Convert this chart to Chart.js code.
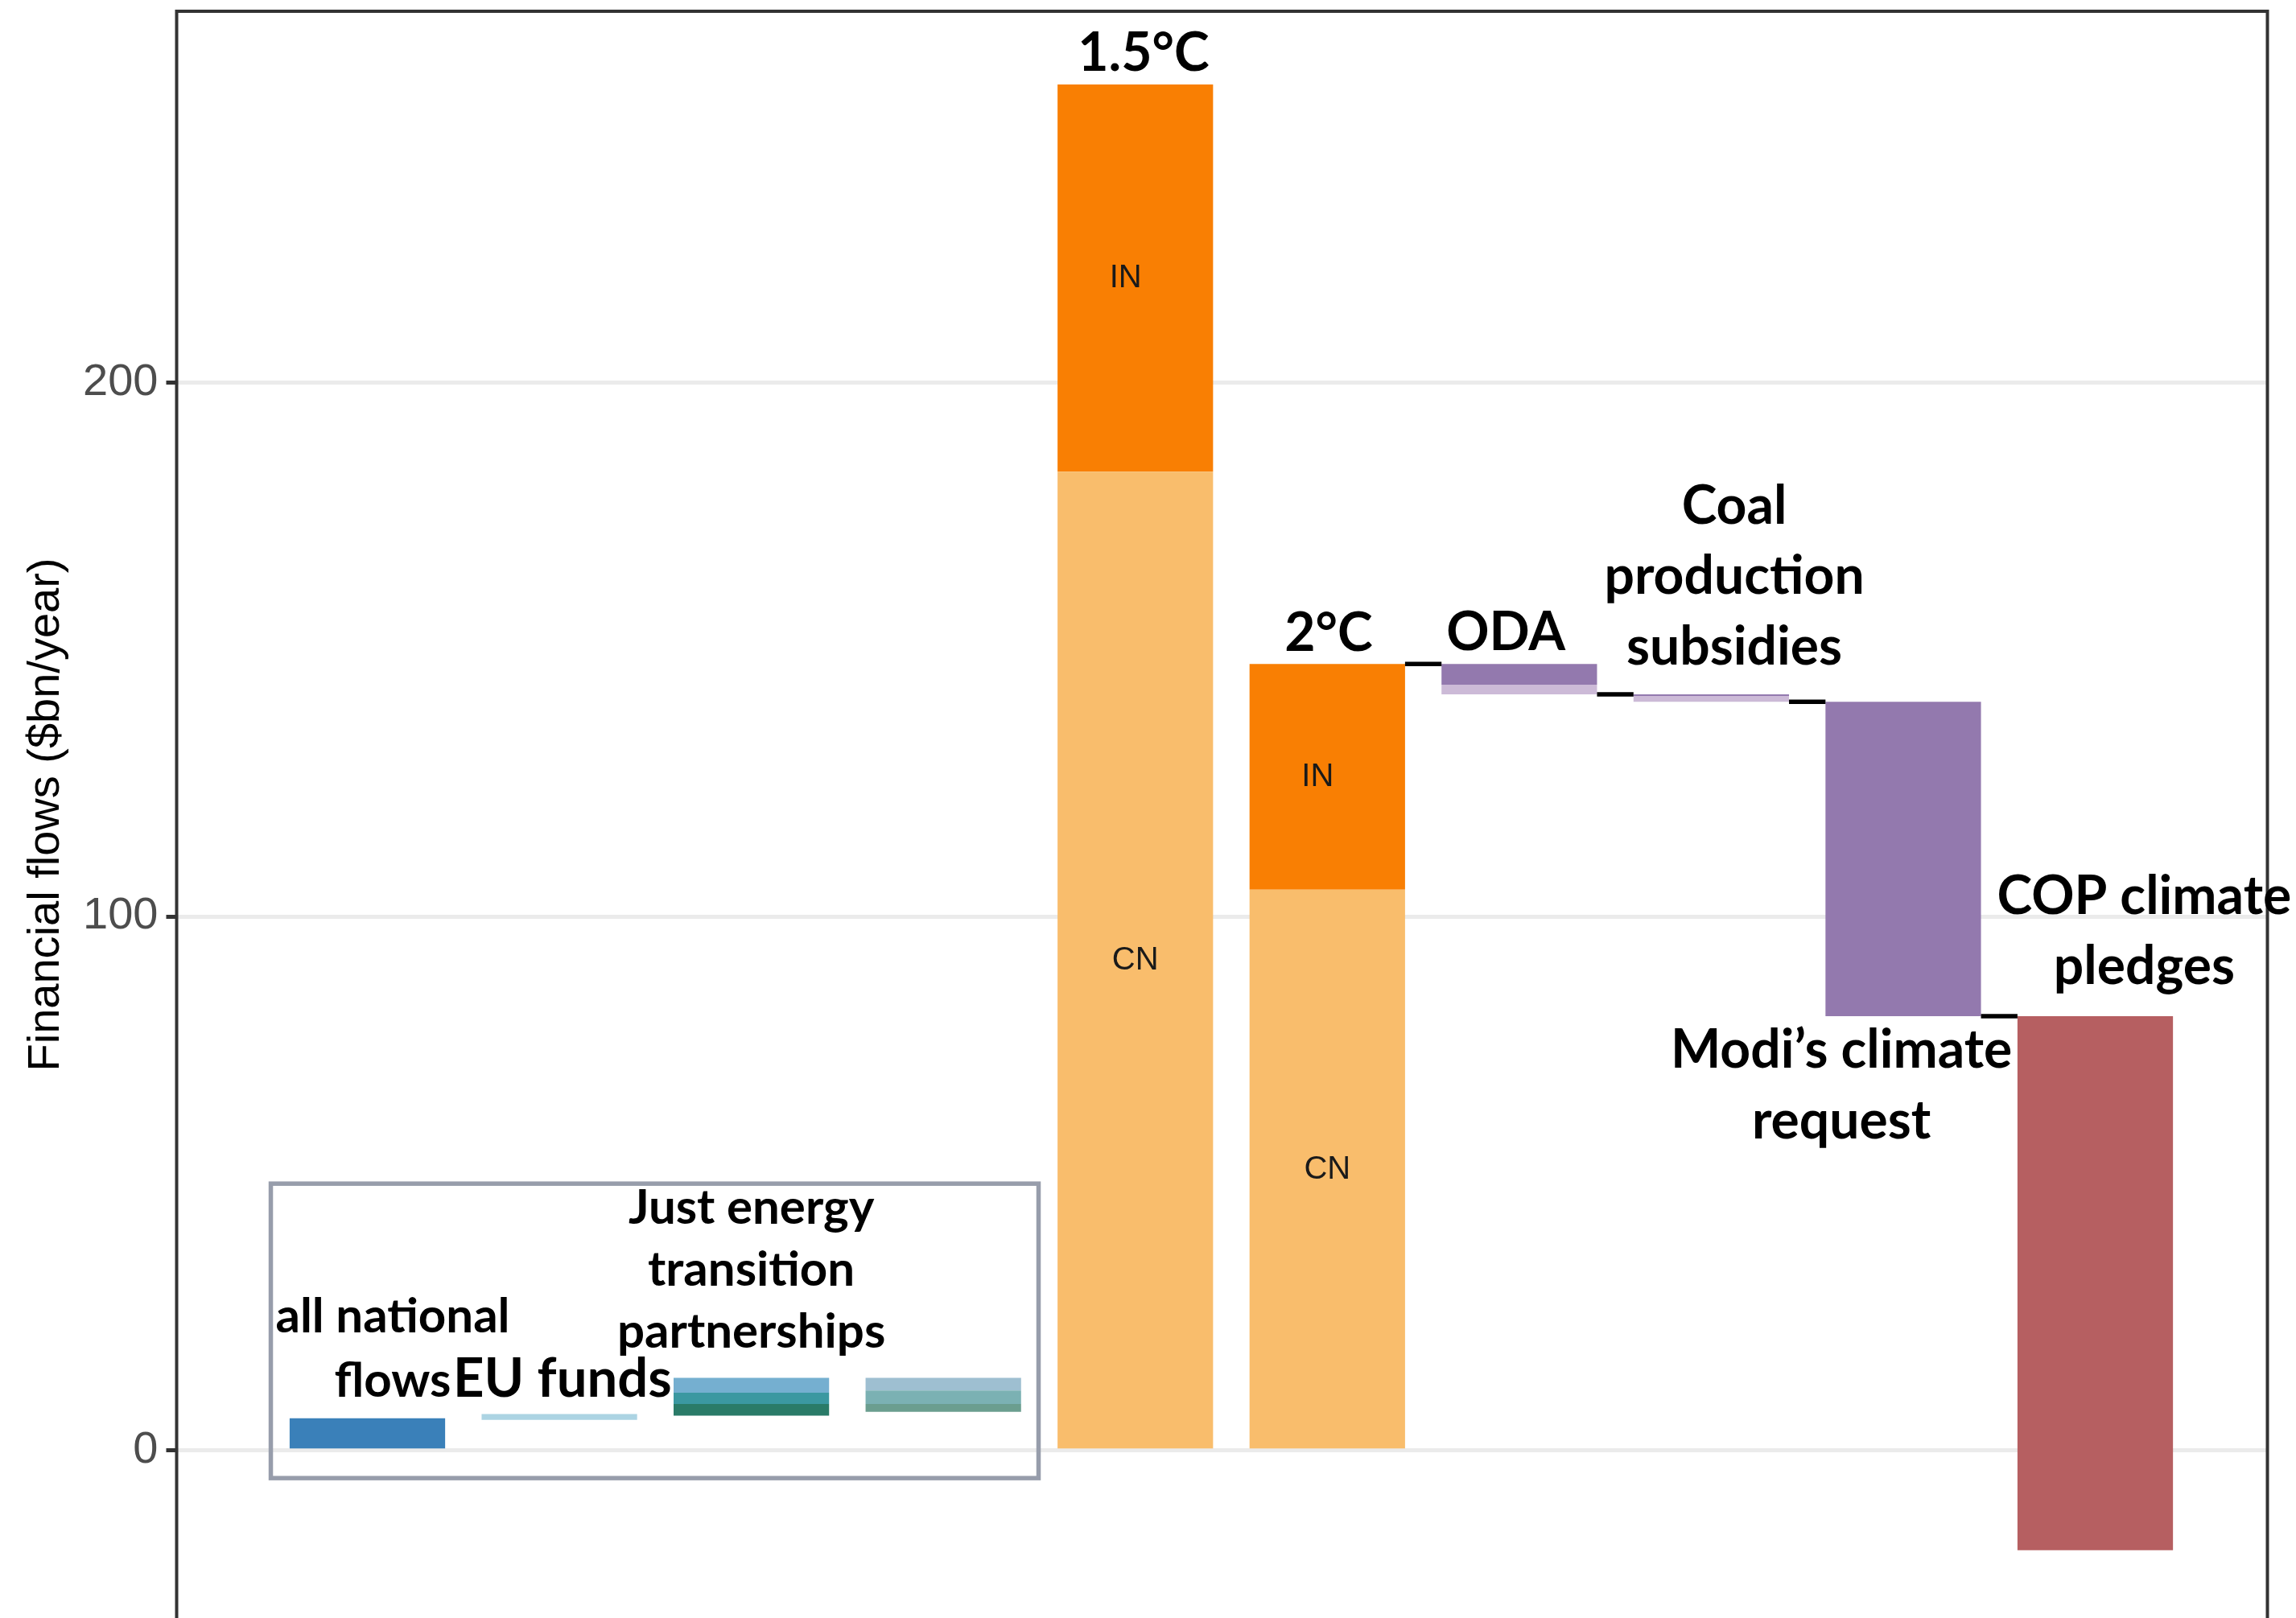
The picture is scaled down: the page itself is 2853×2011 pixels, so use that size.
<!DOCTYPE html>
<html>
<head>
<meta charset="utf-8">
<title>Financial flows</title>
<script src="https://cdn.jsdelivr.net/npm/chart.js@4.4.1/dist/chart.umd.min.js"></script>
<style>
  html, body { margin: 0; padding: 0; background: #ffffff; }
  canvas { display: block; }
</style>
</head>
<body>
<canvas id="flowChart" width="2853" height="2011"></canvas>
<script>
// Sumbu y
const yTicks = [0, 100, 200];
const yMin = -31.4;
const yMax = 269.53;

// Posisi batang di sumbu x (1..10)
const barPositions = [1, 2, 3, 4, 5, 6, 7, 8, 9, 10];

// Kelompok kiri (di dalam kotak)
const nationalFlows = [0, 6.0];
const euFunds = [5.7, 6.8];
const jetpParts = [[6.5, 8.7], [8.7, 10.8], [10.8, 13.6]];
const jetpAltParts = [[7.2, 8.7], [8.7, 11.2], [11.2, 13.6]];

// Kebutuhan investasi per skenario
const scenarios = ['1.5°C', '2°C'];
const cnNeed = [183.3, 105.0];
const inNeed = [72.5, 42.3];

// Langkah waterfall setelah 2°C
const odaSteps = [-3.9, -1.8];
const coalSteps = [-0.3, -1.1];
const modiRequest = -58.9;
const copPledges = -100;

// Hitung rentang batang mengambang dari langkah-langkah di atas
let level = cnNeed[1] + inNeed[1];
const connectorLevels = [level];
const odaRanges = odaSteps.map(s => { const r = [level, level + s]; level += s; return r; });
connectorLevels.push(level);
const coalRanges = coalSteps.map(s => { const r = [level, level + s]; level += s; return r; });
connectorLevels.push(level);
const modiRange = [level, level + modiRequest];
level += modiRequest;
connectorLevels.push(level);
const copRange = [level, level + copPledges];

// Teks anotasi
const annotations = [
  { lines: ['all national', 'flows'], x: 1.132, y: 22.17, size: 60, gap: 80 },
  { lines: ['EU funds'], x: 2.016, y: 10.1, size: 67, gap: 80 },
  { lines: ['Just energy', 'transition', 'partnerships'], x: 3.0, y: 42.5, size: 60, gap: 77 },
  { lines: [scenarios[0]], x: 5.043, y: 258.4, size: 66, gap: 87 },
  { lines: [scenarios[1]], x: 6.007, y: 149.8, size: 66, gap: 87 },
  { lines: ['ODA'], x: 6.93, y: 149.9, size: 66, gap: 87 },
  { lines: ['Coal', 'production', 'subsidies'], x: 8.12, y: 173.6, size: 66, gap: 87.5 },
  { lines: ['Modi\u2019s climate', 'request'], x: 8.678, y: 71.6, size: 66, gap: 88 },
  { lines: ['COP climate', 'pledges'], x: 10.255, y: 100.45, size: 66, gap: 87 }
];
const boxCorners = { x1: 0.497, x2: 4.496, y1: 49.95, y2: -5.2 };

const bar = (x, r) => ({ x: x, y: r });

const datasets = [
  { label: 'all national flows', color: '#3a80b9', data: [bar(barPositions[0], nationalFlows)] },
  { label: 'EU funds', color: '#acd4e3', data: [bar(barPositions[1], euFunds)] },
  { label: 'JETP 1', color: '#2a7b68', data: [bar(barPositions[2], jetpParts[0])] },
  { label: 'JETP 2', color: '#3b98a1', data: [bar(barPositions[2], jetpParts[1])] },
  { label: 'JETP 3', color: '#75afd0', data: [bar(barPositions[2], jetpParts[2])] },
  { label: 'JETP alt 1', color: '#6b9e8f', data: [bar(barPositions[3], jetpAltParts[0])] },
  { label: 'JETP alt 2', color: '#7bb1b3', data: [bar(barPositions[3], jetpAltParts[1])] },
  { label: 'JETP alt 3', color: '#9ebfd1', data: [bar(barPositions[3], jetpAltParts[2])] },
  { label: 'CN', color: '#f9bd6c', data: cnNeed.map((v, i) => bar(barPositions[4 + i], [0, v])) },
  { label: 'IN', color: '#f97f03', data: inNeed.map((v, i) => bar(barPositions[4 + i], [cnNeed[i], cnNeed[i] + v])) },
  { label: 'dark purple', color: '#9379ae',
    data: [bar(barPositions[6], odaRanges[0]), bar(barPositions[7], coalRanges[0]), bar(barPositions[8], modiRange)] },
  { label: 'light purple', color: '#ccbad7',
    data: [bar(barPositions[6], odaRanges[1]), bar(barPositions[7], coalRanges[1])] },
  { label: 'COP climate pledges', color: '#b65f61', data: [bar(barPositions[9], copRange)] }
].map(d => ({
  label: d.label,
  data: d.data,
  backgroundColor: d.color,
  borderWidth: 0,
  barPercentage: 0.81,
  categoryPercentage: 1.0,
  grouped: false
}));

// Garis penghubung, label IN/CN, kotak, bingkai panel dan teks
const annotPlugin = {
  id: 'annot',
  afterDatasetsDraw(chart) {
    const { ctx, chartArea } = chart;
    const xs = chart.scales.x;
    const ys = chart.scales.y;
    const w = chart.getDatasetMeta(0).data[0].width;
    ctx.save();

    ctx.strokeStyle = '#000000';
    ctx.lineWidth = 5.5;
    connectorLevels.forEach((lv, i) => {
      const from = barPositions[5 + i];
      const x1 = xs.getPixelForValue(from) + w / 2;
      const x2 = xs.getPixelForValue(from + 1) - w / 2;
      const py = ys.getPixelForValue(lv);
      ctx.beginPath();
      ctx.moveTo(x1, py);
      ctx.lineTo(x2, py);
      ctx.stroke();
    });

    ctx.fillStyle = '#1a1a1a';
    ctx.font = '40px "Liberation Sans", Arial, sans-serif';
    ctx.textAlign = 'center';
    ctx.textBaseline = 'middle';
    cnNeed.forEach((cn, i) => {
      const px = xs.getPixelForValue(barPositions[4 + i]);
      ctx.fillText('IN', px - 12, ys.getPixelForValue(cn + inNeed[i] / 2));
      ctx.fillText('CN', px, ys.getPixelForValue(cn / 2));
    });

    ctx.strokeStyle = '#979dab';
    ctx.lineWidth = 5.5;
    const bx1 = xs.getPixelForValue(boxCorners.x1);
    const bx2 = xs.getPixelForValue(boxCorners.x2);
    const by1 = ys.getPixelForValue(boxCorners.y1);
    const by2 = ys.getPixelForValue(boxCorners.y2);
    ctx.strokeRect(bx1, by1, bx2 - bx1, by2 - by1);

    ctx.strokeStyle = '#333333';
    ctx.lineWidth = 4;
    ctx.beginPath();
    ctx.moveTo(chartArea.left, chart.height);
    ctx.lineTo(chartArea.left, chartArea.top);
    ctx.lineTo(chartArea.right, chartArea.top);
    ctx.lineTo(chartArea.right, chart.height);
    ctx.stroke();

    ctx.fillStyle = '#000000';
    ctx.textBaseline = 'alphabetic';
    annotations.forEach(a => {
      ctx.font = 'bold ' + a.size + 'px Lato, "Open Sans", sans-serif';
      const px = xs.getPixelForValue(a.x);
      const py = ys.getPixelForValue(a.y);
      a.lines.forEach((t, i) => ctx.fillText(t, px, py + i * a.gap));
    });
    ctx.restore();
  }
};

function drawChart() {
  new Chart(document.getElementById('flowChart').getContext('2d'), {
    type: 'bar',
    data: { datasets: datasets },
    options: {
      responsive: false,
      animation: false,
      devicePixelRatio: 1,
      events: [],
      layout: { padding: { top: 14, right: 35.5, bottom: 0, left: 0 } },
      plugins: { legend: { display: false }, tooltip: { enabled: false } },
      scales: {
        x: {
          type: 'linear',
          display: false,
          offset: false,
          grid: { offset: false },
          min: 0.0065,
          max: 10.897,
          afterBuildTicks: scale => { scale.ticks = barPositions.map(v => ({ value: v })); }
        },
        y: {
          type: 'linear',
          min: yMin,
          max: yMax,
          afterBuildTicks: scale => { scale.ticks = yTicks.map(v => ({ value: v })); },
          afterFit: scale => {
            scale.width = 219.5;
            scale.paddingTop = 0;
            scale.paddingBottom = 0;
          },
          border: { display: false },
          grid: {
            color: '#ebebeb',
            lineWidth: 5,
            tickColor: '#333333',
            tickWidth: 5,
            tickLength: 13
          },
          ticks: {
            color: '#4d4d4d',
            padding: 10,
            font: { family: '"Liberation Sans", Arial, sans-serif', size: 56 }
          },
          title: {
            display: true,
            text: 'Financial flows ($bn/year)',
            color: '#000000',
            font: { family: '"Liberation Sans", Arial, sans-serif', size: 56, lineHeight: 1 },
            padding: { top: 30, bottom: 0 }
          }
        }
      }
    },
    plugins: [annotPlugin]
  });
}

Promise.all([
  document.fonts.load('bold 66px Lato'),
  document.fonts.load('56px "Liberation Sans"')
]).then(drawChart, drawChart);
</script>
</body>
</html>
